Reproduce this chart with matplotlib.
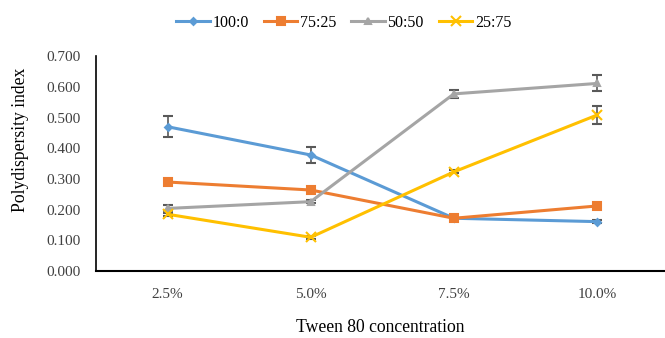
import matplotlib
matplotlib.use("Agg")
import matplotlib.pyplot as plt
from matplotlib.lines import Line2D
import numpy as np

categories = ["2.5%", "5.0%", "7.5%", "10.0%"]
labels = ["100:0", "75:25", "50:50", "25:75"]
s100 = [0.470, 0.378, 0.172, 0.161]
e100 = [0.035, 0.027, 0.004, 0.004]
s75 = [0.290, 0.264, 0.172, 0.212]
e75 = [0.010, 0.005, 0.004, 0.005]
s50 = [0.204, 0.226, 0.577, 0.611]
e50 = [0.010, 0.004, 0.012, 0.026]
s25 = [0.185, 0.110, 0.323, 0.508]
e25 = [0.005, 0.004, 0.005, 0.028]
yticks = [0.0, 0.1, 0.2, 0.3, 0.4, 0.5, 0.6, 0.7]

colors = ["#5B9BD5", "#ED7D31", "#A5A5A5", "#FFC000"]
markers = ["D", "s", "^", "x"]
msizes = [3.5, 5.5, 5, 7]

plt.rcParams['font.family'] = ['Liberation Serif', 'DejaVu Serif']

fig = plt.figure(figsize=(6.65, 3.38), dpi=100)
ax = fig.add_axes([0.1444, 0.198, 0.8556, 0.636])
x = np.arange(len(categories))
series = [s100, s75, s50, s25]
errs = [e100, e75, e50, e25]
handles = []
for s, e, c, m, ms, lab in zip(series, errs, colors, markers, msizes, labels):
    ax.errorbar(x, s, yerr=e, color=c, marker=m, markersize=ms, lw=2.2,
                mew=1.5, ecolor="#595959", elinewidth=1.2, capsize=3.5,
                capthick=1.2, zorder=3)
    handles.append(Line2D([], [], color=c, marker=m, markersize=ms, lw=2.2,
                          mew=1.5, label=lab))

ax.set_xlim(-0.5, 3.475)
ax.set_ylim(0, 0.7)
ax.set_yticks(yticks)
ax.set_yticklabels([f"{v:.3f}" for v in yticks], fontsize=11, color="#404040")
ax.set_xticks(x)
ax.set_xticklabels(categories, fontsize=11, color="#404040")
ax.tick_params(length=0)
ax.tick_params(axis='y', pad=11)
ax.tick_params(axis='x', pad=12)
for sp in ["top", "right"]:
    ax.spines[sp].set_visible(False)
ax.spines["left"].set_linewidth(1.2)
ax.spines["bottom"].set_linewidth(1.5)
ax.set_ylabel("Polydispersity index", fontsize=12.7)
ax.yaxis.set_label_coords(-0.118, 0.61)
ax.set_xlabel("Tween 80 concentration", fontsize=12.7, labelpad=13)

fig.legend(handles=handles, loc="center", bbox_to_anchor=(0.517, 0.932), ncol=4,
           frameon=False, fontsize=11.5, handlelength=2.1, columnspacing=0.95,
           handletextpad=0.15)

fig.savefig("out.png", dpi=100)
